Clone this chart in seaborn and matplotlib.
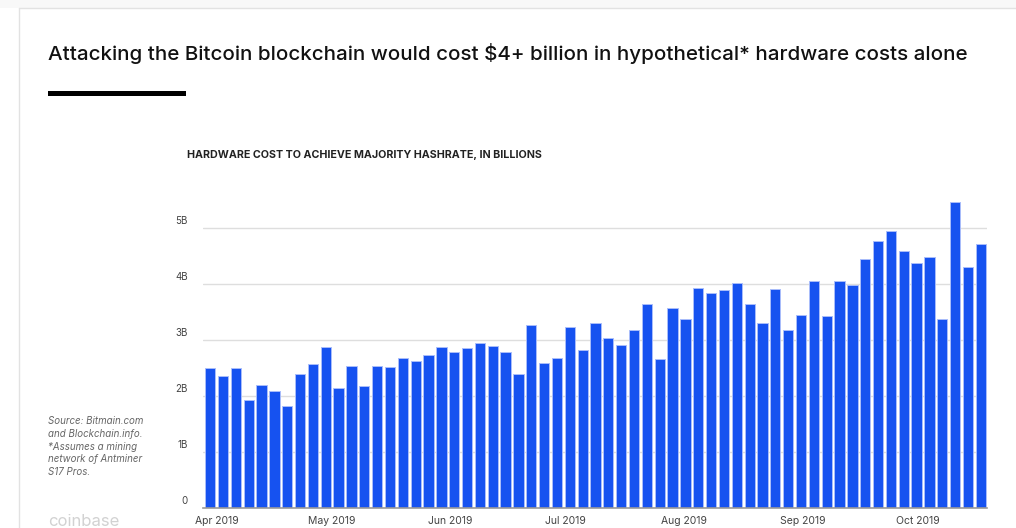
import matplotlib
matplotlib.use('Agg')
import matplotlib.pyplot as plt
import matplotlib.transforms as mtransforms
from matplotlib.patches import Rectangle
from matplotlib.lines import Line2D
import seaborn as sns
import numpy as np
import pandas as pd

# hardware cost (billions USD), one bar per sample
costs = [2.50, 2.35, 2.50, 1.93, 2.20, 2.09, 1.83, 2.40, 2.57, 2.88,
         2.14, 2.53, 2.17, 2.54, 2.51, 2.67, 2.63, 2.74, 2.88, 2.79,
         2.85, 2.94, 2.90, 2.79, 2.40, 3.27, 2.59, 2.68, 3.23, 2.82,
         3.30, 3.03, 2.91, 3.18, 3.65, 2.66, 3.57, 3.37, 3.93, 3.84,
         3.89, 4.01, 3.65, 3.30, 3.91, 3.18, 3.45, 4.06, 3.43, 4.06,
         3.99, 4.44, 4.77, 4.94, 4.59, 4.38, 4.49, 3.37, 5.46, 4.31, 4.71]
dates = pd.date_range('2019-03-30 06:00', '2019-10-17 12:00', periods=len(costs))
month_starts = pd.date_range('2019-04-01', '2019-10-01', freq='MS')
y_ticks = [0, 1, 2, 3, 4, 5]
y_labels = ['0', '1B', '2B', '3B', '4B', '5B']

title = 'Attacking the Bitcoin blockchain would cost $4+ billion in hypothetical* hardware costs alone'
subtitle = 'HARDWARE COST TO ACHIEVE MAJORITY HASHRATE, IN BILLIONS'
source = ('Source: Bitmain.com\nand Blockchain.info.\n*Assumes a mining\n'
          'network of Antminer\nS17 Pros.')

sns.set_style('white')
plt.rcParams['font.family'] = ['Inter', 'DejaVu Sans']

df = pd.DataFrame({'idx': np.arange(len(costs)), 'cost': costs, 'date': dates})

W, H = 1016, 528
fig = plt.figure(figsize=(W / 100, H / 100), dpi=100)
fig.patch.set_facecolor('white')
ax = fig.add_axes([203 / W, 20 / H, 784 / W, 308 / H])

sns.barplot(data=df, x='idx', y='cost', color='#1652f0', saturation=1,
            width=0.8, edgecolor='#a9bdfb', linewidth=0.7, ax=ax)

ax.set_xlim(-0.56, 60.48)
ax.set_ylim(0, 5.5)

# month ticks placed on the bar index scale
tick_pos = np.interp(month_starts.asi8, dates.asi8, df['idx'].to_numpy())
ax.set_xticks(tick_pos)
ax.set_xticklabels(month_starts.strftime('%b %Y'), fontsize=7.5, color='#444444')
ax.set_yticks(y_ticks)
ax.set_yticklabels(y_labels, fontsize=7, color='#444444')
ax.tick_params(axis='both', length=0)
ax.tick_params(axis='x', pad=6)
ax.tick_params(axis='y', pad=11)
offset = mtransforms.ScaledTranslation(0, 6 / 72, fig.dpi_scale_trans)
for lab in ax.get_yticklabels():
    lab.set_transform(lab.get_transform() + offset)

ax.set_xlabel('')
ax.set_ylabel('')
ax.grid(axis='y', color='#dedede', linewidth=1)
ax.grid(axis='x', visible=False)
ax.set_axisbelow(True)
for s in ['top', 'right', 'left']:
    ax.spines[s].set_visible(False)
ax.spines['bottom'].set_color('#9a9a9a')
ax.spines['bottom'].set_linewidth(1.2)

# card border
fig.add_artist(Rectangle((0, 1 - 8 / H), 1, 8 / H, transform=fig.transFigure,
                         facecolor='#f8f8f8', edgecolor='none'))
fig.add_artist(Line2D([19 / W, 1], [1 - 8 / H, 1 - 8 / H], transform=fig.transFigure,
                      color='#e2e2e2', linewidth=1))
fig.add_artist(Line2D([19 / W, 19 / W], [0, 1 - 8 / H], transform=fig.transFigure,
                      color='#e2e2e2', linewidth=1))

fig.text(48 / W, 1 - 53 / H, title, fontsize=14.8, fontweight='medium',
         color='#111111', va='center', ha='left')
fig.add_artist(Rectangle((48 / W, 1 - 96 / H), 138 / W, 5 / H, transform=fig.transFigure,
                         facecolor='black', edgecolor='none'))
fig.text(187 / W, 1 - 155 / H, subtitle, fontsize=7.7, fontweight='bold',
         color='#222222', va='center', ha='left')
fig.text(48 / W, 1 - 416 / H, source, fontsize=7, style='italic',
         color='#666666', va='top', ha='left', linespacing=1.35)
fig.text(48 / W, 1 - 521 / H, 'coinbase', fontsize=12, color='#d2d2d2',
         va='center', ha='left')

fig.savefig('out.png', dpi=100)
